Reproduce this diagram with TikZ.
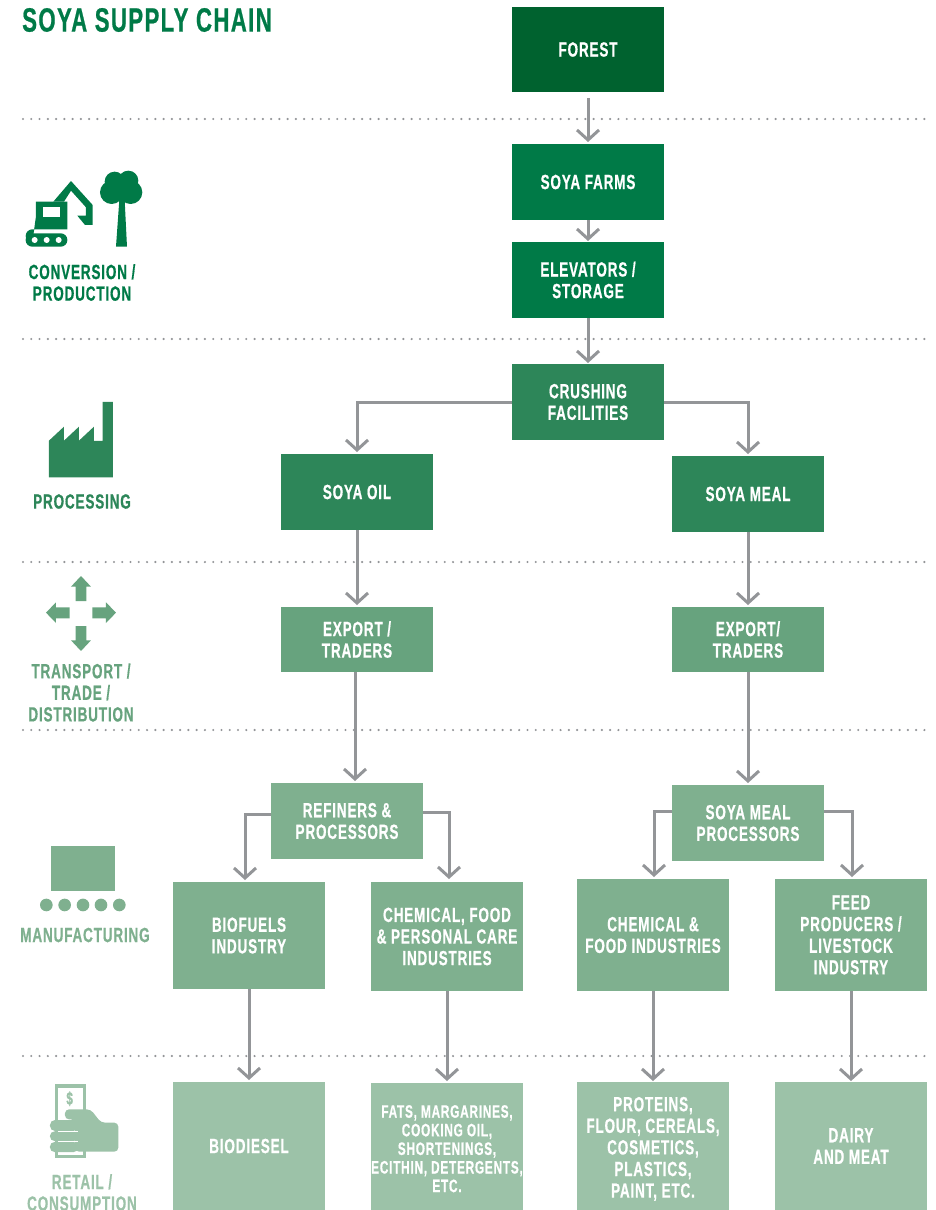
\documentclass[tikz,border=0pt]{standalone}
\usepackage{fontspec}
\setmainfont[FakeStretch=0.66,LetterSpace=4,BoldFont={Liberation Sans Bold},BoldFeatures={FakeBold=0.6}]{Liberation Sans}
\usetikzlibrary{arrows.meta}
\definecolor{cA}{HTML}{00622F}
\definecolor{cB}{HTML}{007A47}
\definecolor{cC}{HTML}{2D8659}
\definecolor{cD}{HTML}{67A37E}
\definecolor{cE}{HTML}{7FB08F}
\definecolor{cF}{HTML}{9CC2A8}
\definecolor{cG}{HTML}{939598}
\tikzset{
  box/.style={inner sep=0pt,outer sep=0pt,minimum width=152pt,align=center,text=white,
    font=\fontsize{20.5}{21.6}\selectfont\bfseries},
  small/.style={font=\fontsize{18}{18.6}\selectfont\bfseries},
  lab/.style={inner sep=0pt,align=center,font=\fontsize{20.5}{21.6}\selectfont\bfseries},
  conn/.style={draw=cG,line width=3pt,-{Straight Barb[length=10pt,width=22pt,line width=3pt]}},
  sep/.style={draw=cG,line width=2.4pt,line cap=round,dash pattern=on 0pt off 8.27pt},
}
\begin{document}
\begin{tikzpicture}[x=1pt,y=-1pt]
\useasboundingbox (0,0) rectangle (935,1210);
\clip (0,0) rectangle (935,1210);
% separators
\foreach \yy in {119,339,562,730,1056}
  \draw[sep] (23,\yy) -- (927,\yy);
% title
\node[inner sep=0pt,anchor=west,text=cB,font=\fontsize{33.7}{34}\selectfont\bfseries] (title) at (22,20) {SOYA SUPPLY CHAIN};
% boxes
\node[box,fill=cA,minimum height=85pt] (forest) at (588,49.5) {FOREST};
\node[box,fill=cB,minimum height=76pt] (farms) at (588,182) {SOYA FARMS};
\node[box,fill=cB,minimum height=76pt] (elev) at (588,280) {ELEVATORS /\\STORAGE};
\node[box,fill=cC,minimum height=76pt] (crush) at (588,402) {CRUSHING\\FACILITIES};
\node[box,fill=cC,minimum height=76pt] (oil) at (357,492) {SOYA OIL};
\node[box,fill=cC,minimum height=76pt] (meal) at (748,494) {SOYA MEAL};
\node[box,fill=cD,minimum height=65pt] (expa) at (357,639.5) {EXPORT /\\TRADERS};
\node[box,fill=cD,minimum height=65pt] (expb) at (748,639.5) {EXPORT/\\TRADERS};
\node[box,fill=cE,minimum height=76pt] (ref) at (347,821) {REFINERS \&\\PROCESSORS};
\node[box,fill=cE,minimum height=76pt] (mproc) at (748,823) {SOYA MEAL\\PROCESSORS};
\node[box,fill=cE,minimum height=107pt] (bio) at (249,935.5) {BIOFUELS\\INDUSTRY};
\node[box,fill=cE,minimum height=109pt] (chem) at (447,936.5) {CHEMICAL, FOOD\\\& PERSONAL CARE\\INDUSTRIES};
\node[box,fill=cE,minimum height=112pt] (food) at (653,935) {CHEMICAL \&\\FOOD INDUSTRIES};
\node[box,fill=cE,minimum height=112pt] (feed) at (851,935) {FEED\\PRODUCERS /\\LIVESTOCK\\INDUSTRY};
\node[box,fill=cF,minimum height=128pt] (diesel) at (249,1146) {BIODIESEL};
\node[box,fill=cF,minimum height=127pt,small] (fats) at (447,1146.5) {\rule{0pt}{17pt}FATS, MARGARINES,\\COOKING OIL,\\SHORTENINGS,\\ECITHIN, DETERGENTS,\\ETC.};
\node[box,fill=cF,minimum height=128pt] (prot) at (653,1146) {\rule{0pt}{20pt}PROTEINS,\\FLOUR, CEREALS,\\COSMETICS,\\PLASTICS,\\PAINT, ETC.};
\node[box,fill=cF,minimum height=128pt] (dairy) at (851,1146) {DAIRY\\AND MEAT};
% connectors
\draw[conn,shorten <=6pt,shorten >=2pt] (forest) -- (farms);
\draw[conn,shorten >=1pt] (farms) -- (elev);
\draw[conn,shorten >=1pt] (elev) -- (crush);
\draw[conn,shorten >=2pt] (crush.west) -| (oil.north);
\draw[conn,shorten >=2pt] (crush.east) -| (meal.north);
\draw[conn,shorten >=2pt] (oil) -- (expa);
\draw[conn,shorten >=2pt] (meal) -- (expb);
\draw[conn,shorten >=2pt] (expa.south -| 355,0) -- (ref.north -| 355,0);
\draw[conn,shorten >=2pt] (expb) -- (mproc);
\draw[conn,shorten >=2pt] (ref.west |- 0,814) -| (bio.north -| 245,0);
\draw[conn,shorten >=3pt] (ref.east |- 0,812) -| (chem.north -| 449,0);
\draw[conn,shorten >=2pt] (mproc.west |- 0,811) -| (food.north -| 654,0);
\draw[conn,shorten >=2pt] (mproc.east |- 0,811) -| (feed.north -| 852,0);
\draw[conn,shorten >=2pt] (bio) -- (diesel);
\draw[conn,shorten >=2pt] (chem) -- (fats);
\draw[conn,shorten >=1pt] (food) -- (prot);
\draw[conn,shorten >=1pt] (feed) -- (dairy);
% left labels
\node[lab,text=cB] (lconv) at (82,282.5) {CONVERSION /\\PRODUCTION};
\node[lab,text=cC] (lproc) at (82,501.5) {PROCESSING};
\node[lab,text=cD] (ltrans) at (81,692.5) {TRANSPORT /\\TRADE /\\DISTRIBUTION};
\node[lab,text=cE] (lman) at (85,935) {MANUFACTURING};
\node[lab,text=cF] (lret) at (82,1192.5) {RETAIL /\\CONSUMPTION};
% icon: excavator and tree
\begin{scope}[shift={(0,150)},x=0.3333pt,y=-0.3333pt]
\fill[cB] (108,155) -- (202,155) -- (202,238) -- (97,238) arc[start angle=270,end angle=90,radius=20] -- (108,198) -- cycle;
\fill[white] (128,170) rectangle (180,201);
\fill[cB,rounded corners=6.5pt] (77,250) rectangle (202,290);
\foreach \cx in {104,140,176} \fill[white] (\cx,270) circle (9);
\fill[cB] (160,155) -- (213,93) -- (278,165) -- (278,225) -- (255,225) -- (232,197) -- (258,197) -- (258,172) -- (213,122) -- (192,155) -- cycle;
\fill[cB] (344,95) circle (30) (385,92) circle (30) (335,127) circle (35) (392,127) circle (35) (365,120) circle (35);
\fill[cB] (358,150) -- (374,150) -- (381,290) -- (348,290) -- cycle;
\fill[cC] (147,982) -- (147,872) -- (192,830) -- (192,872) -- (237,830) -- (237,872) -- (282,830) -- (282,873) -- (308,873) -- (308,756) -- (339,756) -- (339,982) -- cycle;
\end{scope}
% icon: four arrows
\begin{scope}[shift={(0,560)},x=0.3333pt,y=-0.3333pt]
\fill[cD] (227,123) -- (227,80) -- (213,80) -- (243,48) -- (273,80) -- (259,80) -- (259,123) -- cycle;
\fill[cD] (209,142) -- (168,142) -- (168,127) -- (138,158) -- (168,189) -- (168,175) -- (209,175) -- cycle;
\fill[cD] (277,142) -- (318,142) -- (318,127) -- (348,158) -- (318,189) -- (318,175) -- (277,175) -- cycle;
\fill[cD] (227,198) -- (227,241) -- (213,241) -- (243,273) -- (273,241) -- (259,241) -- (259,198) -- cycle;
\fill[cE] (153,858) rectangle (345,993);
\foreach \cx in {139,194,249,303,358} \fill[cE] (\cx,1035) circle (19);
\end{scope}
% icon: money in hand
\begin{scope}[shift={(0,1050)},x=0.3333pt,y=-0.3333pt]
\draw[cF,line width=3.6pt] (170,108) rectangle (254,320);
\node[inner sep=0pt,text=cF,font=\fontsize{18}{18}\selectfont\bfseries] (dollar) at (209,146) {\$};
\fill[cF,rounded corners=4pt] (195,208) -- (195,178) -- (272,178) -- (303,218) -- (355,218) -- (355,305) -- (225,305) -- (225,208) -- cycle;
\fill[cF,rounded corners=5pt] (150,210) rectangle (235,243);
\fill[cF,rounded corners=4.5pt] (150,244) rectangle (235,273);
\fill[cF,rounded corners=4.5pt] (150,276) rectangle (235,306);
\fill[cF] (165,212) rectangle (195,304);
\draw[white,line width=0.8pt] (175,243.5) -- (235,243.5) (175,274.5) -- (235,274.5);
\end{scope}
\end{tikzpicture}
\end{document}
